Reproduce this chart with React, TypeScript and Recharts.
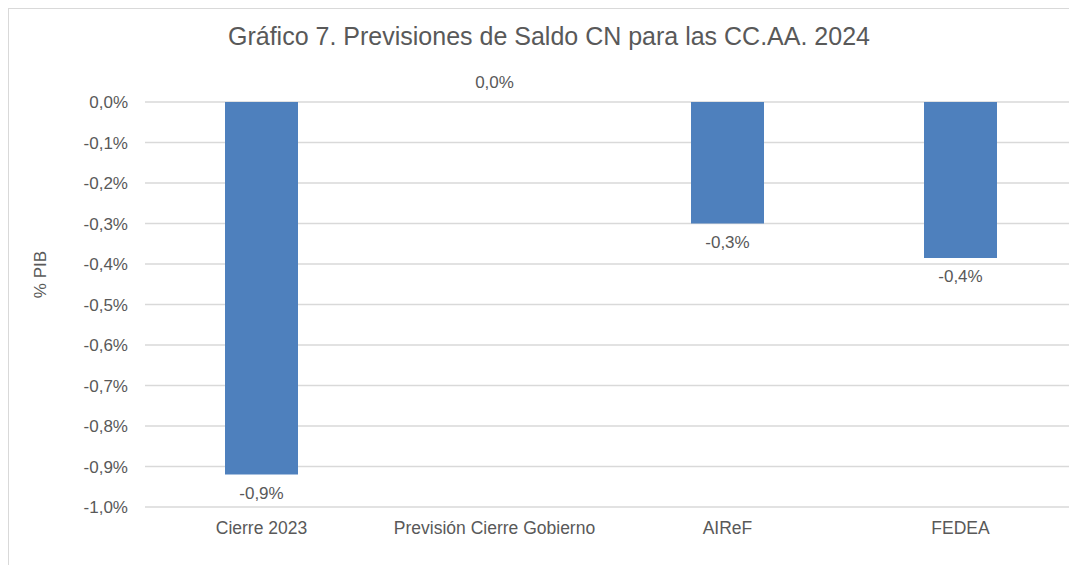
import { BarChart, Bar, XAxis, YAxis, CartesianGrid, LabelList } from 'recharts';

const categories = ['Cierre 2023', 'Previsión Cierre Gobierno', 'AIReF', 'FEDEA'];
const saldo = [-0.92, 0.0, -0.3, -0.385];
const yTicks = [0, -0.1, -0.2, -0.3, -0.4, -0.5, -0.6, -0.7, -0.8, -0.9, -1.0];

const TEXT = '#595959';
const FONT = '"Liberation Sans", Arial, Helvetica, sans-serif';

const data = categories.map((name, i) => ({ name, saldo: saldo[i] }));

const pct = (v: number) => `${v.toFixed(1).replace('.', ',')}%`;

// etiqueta bajo la barra si es negativa, encima si no
const ValueLabel = (props: any) => {
  const { x, y, width, height, value } = props;
  const top = Math.min(y, y + height);
  const bottom = Math.max(y, y + height);
  const ty = value < 0 ? bottom + 19 : top - 19;
  return (
    <text x={x + width / 2} y={ty} textAnchor="middle" dominantBaseline="central" fill={TEXT} fontSize={17} fontFamily={FONT}>
      {pct(value)}
    </text>
  );
};

const YLabel = (props: any) => {
  const { viewBox } = props;
  const cx = viewBox.x + 31;
  const cy = viewBox.y + viewBox.height / 2 - 30;
  return (
    <text x={cx} y={cy} transform={`rotate(-90 ${cx} ${cy})`} textAnchor="middle" dominantBaseline="central" fill={TEXT} fontSize={17} fontFamily={FONT}>
      % PIB
    </text>
  );
};

export default function App() {
  // el marco sigue fuera de la captura por la derecha y abajo
  return (
    <div style={{ position: 'relative', width: 1069, height: 556, borderLeft: '1px solid #d9d9d9', borderTop: '1px solid #d9d9d9', fontFamily: FONT, background: '#fff', overflow: 'hidden' }}>
      <div style={{ position: 'absolute', top: 15, left: 0, width: 1080, textAlign: 'center', fontSize: 25, lineHeight: '25px', color: TEXT }}>
        Gráfico 7. Previsiones de Saldo CN para las CC.AA. 2024
      </div>
      <BarChart width={1069} height={556} data={data} margin={{ top: 93, right: 1, left: 0, bottom: 18 }} barSize={73}>
        <CartesianGrid vertical={false} stroke="#d9d9d9" strokeWidth={1.5} />
        <XAxis
          dataKey="name"
          axisLine={false}
          tickLine={false}
          tickMargin={9}
          height={40}
          interval={0}
          tick={{ fontSize: 17.5, fill: TEXT, fontFamily: FONT }}
        />
        <YAxis
          domain={[-1, 0]}
          ticks={yTicks}
          width={136}
          axisLine={false}
          tickLine={false}
          tickMargin={11}
          tickFormatter={pct}
          tick={{ fontSize: 17, fill: TEXT, fontFamily: FONT }}
          label={<YLabel />}
        />
        <Bar dataKey="saldo" fill="#4e80bd" minPointSize={0.01} isAnimationActive={false}>
          <LabelList dataKey="saldo" content={<ValueLabel />} />
        </Bar>
      </BarChart>
    </div>
  );
}
